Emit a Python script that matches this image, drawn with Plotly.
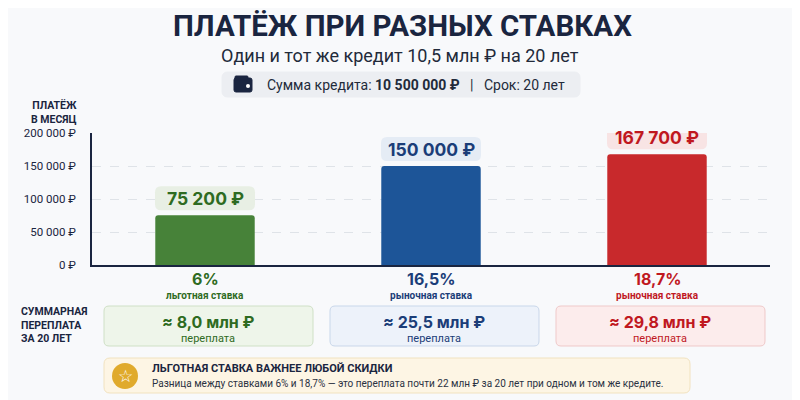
import plotly.graph_objects as go

# данные
rates = ["6%", "16,5%", "18,7%"]
rate_types = ["льготная ставка", "рыночная ставка", "рыночная ставка"]
payments = [75200, 150000, 167700]
payment_labels = ["75 200 ₽", "150 000 ₽", "167 700 ₽"]
overpay_labels = ["≈ 8,0 млн ₽", "≈ 25,5 млн ₽", "≈ 29,8 млн ₽"]
ytick_vals = [0, 50000, 100000, 150000, 200000]
ytick_text = ["0 ₽", "50 000 ₽", "100 000 ₽", "150 000 ₽", "200 000 ₽"]

bar_colors = ["#478239", "#1d5598", "#c8292c"]
text_colors = ["#2e6b22", "#1b3d78", "#c0181f"]
label_bg = ["#e8efe4", "#e5ecf5", "#f8e4e4"]
box_bg = ["#eef5ea", "#edf2fa", "#fcecec"]
box_line = ["#cfe0c6", "#c9d7ea", "#efc9c9"]

navy = "#1a2540"
font_main = "Roboto"
font_num = "Inter"

# страница открывается с отступом body 8px, поэтому рисуем на 792x392
OFF = 8
W, H = 800 - OFF, 400 - OFF
# область графика в пикселях эталона
PL, PR, PT, PB = 92, 770, 133, 265
L, T = PL - OFF, PT - OFF
R = W - (PR - OFF)
B = H - (PB - OFF)
PW = PR - PL
PH = PB - PT


def px(x):
    return (x - PL) / PW


def py(y):
    return (PB - y) / PH


def rr(x0, y0, x1, y1, r):
    # скруглённый прямоугольник в пикселях (y вверх)
    return (f"M{x0+r},{y0} L{x1-r},{y0} Q{x1},{y0} {x1},{y0+r} "
            f"L{x1},{y1-r} Q{x1},{y1} {x1-r},{y1} L{x0+r},{y1} "
            f"Q{x0},{y1} {x0},{y1-r} L{x0},{y0+r} Q{x0},{y0} {x0+r},{y0} Z")


def page_box(x0, y0, x1, y1, r, fill, line=None):
    # прямоугольник по пикселям эталона (y вниз)
    return dict(type="path", xref="paper", yref="paper", xsizemode="pixel", ysizemode="pixel",
                xanchor=0, yanchor=0,
                path=rr(x0 - PL, PB - y1, x1 - PL, PB - y0, r),
                fillcolor=fill, line=dict(color=line or fill, width=1), layer="below")


def text(x, y, s, size, color=navy, bold=False, fam=font_main, xanchor="center"):
    return dict(xref="paper", yref="paper", x=px(x), y=py(y), showarrow=False,
                text=f"<b>{s}</b>" if bold else s, xanchor=xanchor, yanchor="middle",
                align="left" if xanchor == "left" else ("right" if xanchor == "right" else "center"),
                font=dict(family=fam, size=size, color=color))


fig = go.Figure()
fig.add_trace(go.Bar(x=rates, y=payments, width=0.44, marker=dict(color=bar_colors, line=dict(width=0)),
                     hoverinfo="skip"))

shapes = []
annotations = []

# шапка
annotations.append(text(402, 26, "ПЛАТЁЖ ПРИ РАЗНЫХ СТАВКАХ", 29.5, bold=True))
annotations.append(text(400, 55, "Один и тот же кредит 10,5 млн ₽ на 20 лет", 18, color="#222a3a"))
shapes.append(page_box(222, 72, 580, 97, 6, "#eceef2"))
# кошелёк
shapes.append(page_box(234, 78, 252, 92, 2, navy))
shapes.append(page_box(235, 76, 248, 80, 1, navy))
shapes.append(dict(type="circle", xref="paper", yref="paper", xsizemode="pixel", ysizemode="pixel",
                   xanchor=0, yanchor=0, x0=246 - PL, x1=250 - PL, y0=PB - 88, y1=PB - 84,
                   fillcolor="#ffffff", line=dict(width=0)))
annotations.append(text(265, 85, "Сумма кредита: <b>10 500 000 ₽</b>   |   Срок: 20 лет", 14,
                        color="#222a3a", xanchor="left"))

# подписи слева
annotations.append(text(79, 112, "ПЛАТЁЖ<br>В МЕСЯЦ", 10.5, bold=True, xanchor="right"))
annotations.append(text(19, 325, "СУММАРНАЯ<br>ПЕРЕПЛАТА<br>ЗА 20 ЛЕТ", 10.5, bold=True, xanchor="left"))

for i, cat in enumerate(rates):
    # плашка со значением над столбцом
    shapes.append(dict(type="path", xref="x", yref="y", xsizemode="pixel", ysizemode="pixel",
                       xanchor=i, yanchor=payments[i], path=rr(-50, 5, 50, 29, 6),
                       fillcolor=label_bg[i], line=dict(width=0)))
    annotations.append(dict(x=cat, y=payments[i], yshift=17, showarrow=False, yanchor="middle",
                            text=f"<b>{payment_labels[i]}</b>",
                            font=dict(family=font_num, size=17.5, color=text_colors[i])))
    # ставка под осью
    annotations.append(dict(x=cat, xref="x", yref="paper", y=0, yshift=-14, showarrow=False,
                            yanchor="middle", text=f"<b>{cat}</b>",
                            font=dict(family=font_num, size=16, color=text_colors[i])))
    annotations.append(dict(x=cat, xref="x", yref="paper", y=0, yshift=-30, showarrow=False,
                            yanchor="middle", text=f"<b>{rate_types[i]}</b>",
                            font=dict(family=font_main, size=10, color=text_colors[i])))
    # блок переплаты
    shapes.append(dict(type="path", xref="x", yref="paper", xsizemode="pixel", ysizemode="pixel",
                       xanchor=i, yanchor=0, path=rr(-101, -81, 108, -41, 5),
                       fillcolor=box_bg[i], line=dict(color=box_line[i], width=1)))
    annotations.append(dict(x=cat, xref="x", yref="paper", y=0, yshift=-57, xshift=3, showarrow=False,
                            yanchor="middle", text=f"<b>{overpay_labels[i]}</b>",
                            font=dict(family=font_num, size=16, color=text_colors[i])))
    annotations.append(dict(x=cat, xref="x", yref="paper", y=0, yshift=-73, xshift=3, showarrow=False,
                            yanchor="middle", text="переплата",
                            font=dict(family=font_main, size=11, color=text_colors[i])))

# вывод внизу
shapes.append(page_box(104, 358, 690, 393, 6, "#fdf5e4", "#f1e2bf"))
shapes.append(dict(type="circle", xref="paper", yref="paper", xsizemode="pixel", ysizemode="pixel",
                   xanchor=0, yanchor=0, x0=112 - PL, x1=138 - PL, y0=PB - 389, y1=PB - 363,
                   fillcolor="#e0aa2c", line=dict(width=0)))
annotations.append(text(125, 376, "☆", 17, color="#ffffff", fam="DejaVu Sans"))
annotations.append(text(150, 368, "ЛЬГОТНАЯ СТАВКА ВАЖНЕЕ ЛЮБОЙ СКИДКИ", 11, bold=True, xanchor="left"))
annotations.append(text(150, 383, "Разница между ставками 6% и 18,7% — это переплата почти 22 млн ₽ "
                                  "за 20 лет при одном и том же кредите.", 10, color="#2a3142",
                        xanchor="left"))

fig.update_layout(
    width=W, height=H, margin=dict(l=L, r=R, t=T, b=B),
    paper_bgcolor="#f8f9fb", plot_bgcolor="#f8f9fb",
    showlegend=False, barcornerradius=3,
    shapes=shapes, annotations=annotations,
    xaxis=dict(showticklabels=False, showgrid=False, zeroline=False, showline=True,
               linecolor=navy, linewidth=1.5, range=[-0.5, 2.5], fixedrange=True),
    yaxis=dict(range=[0, 200000], tickvals=ytick_vals, ticktext=ytick_text,
               tickfont=dict(family=font_main, size=11.5, color=navy),
               showgrid=True, gridcolor="#dfe3e8", griddash="dash", gridwidth=1,
               zeroline=False, showline=True, linecolor=navy, linewidth=1.5,
               ticks="", ticklabelstandoff=12, fixedrange=True),
)

fig.write_html("out.html")
